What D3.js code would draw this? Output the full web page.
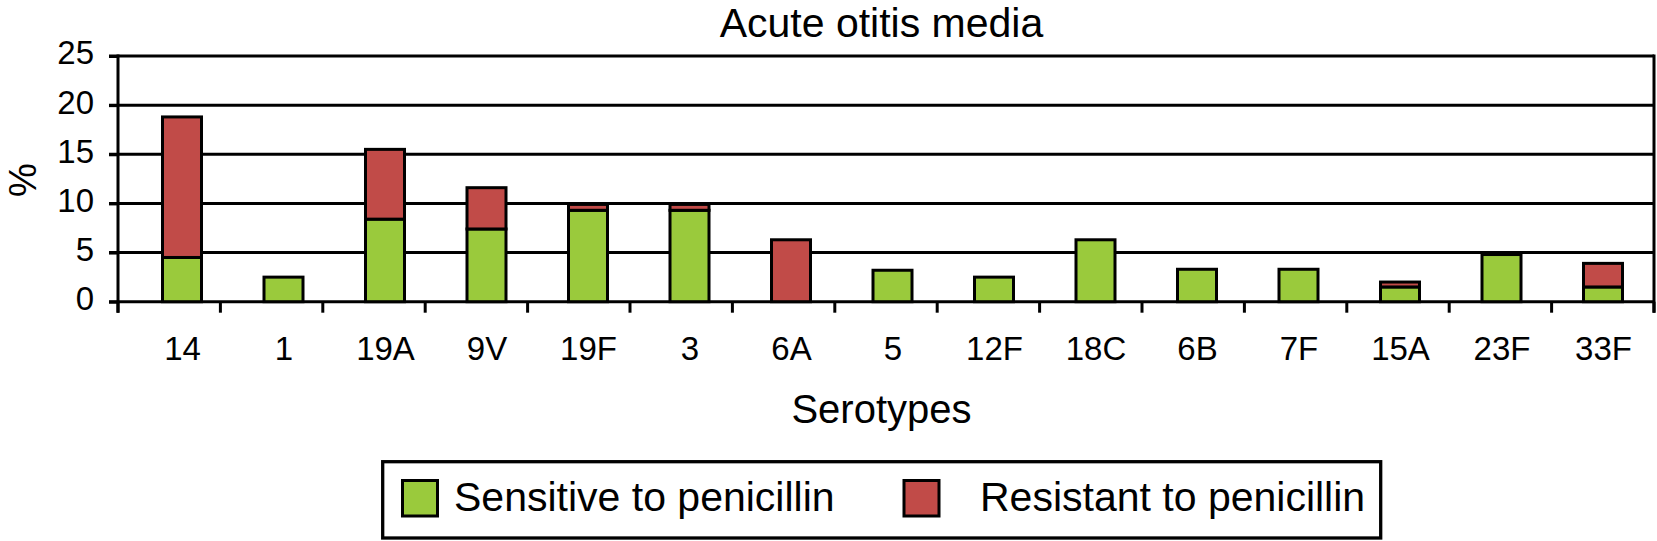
<!DOCTYPE html>
<html>
<head>
<meta charset="utf-8">
<script src="https://cdn.jsdelivr.net/npm/d3@7"></script>
<style>
  body { margin: 0; background: #fff; }
  svg { display: block; font-family: "Liberation Sans", Arial, Helvetica, sans-serif; }
</style>
</head>
<body>
<svg id="chart" width="1657" height="541"></svg>
<script>
// values, % of isolates
const serotypes = ["14", "1", "19A", "9V", "19F", "3", "6A", "5", "12F", "18C", "6B", "7F", "15A", "23F", "33F"]
const sensitive = [4.5, 2.5, 8.4, 7.4, 9.3, 9.3, 0, 3.2, 2.5, 6.3, 3.3, 3.3, 1.5, 4.8, 1.5]
const resistant = [14.3, 0, 7.1, 4.2, 0.6, 0.6, 6.3, 0, 0, 0, 0, 0, 0.5, 0, 2.4]
const yTicks = [0, 5, 10, 15, 20, 25]
const seriesNames = ["Sensitive to penicillin", "Resistant to penicillin"]
const seriesColors = ["#9aca3c", "#c14b48"]

const svg = d3.select("#chart")
const plotLeft = 118, plotRight = 1654, plotTop = 56, plotBottom = 301.7

// frame ticks sit on band edges, bars and labels on their own point scale
const xb = d3.scaleBand().domain(serotypes).range([plotLeft, plotRight])
const xp = d3.scalePoint().domain(serotypes).range([182, 1603])
const y = d3.scaleLinear().domain([0, 25]).range([plotBottom, plotTop])

const rows = serotypes.map((s, i) => ({serotype: s, sensitive: sensitive[i], resistant: resistant[i]}))
const stacked = d3.stack().keys(["sensitive", "resistant"])(rows)

// gridlines
svg.append("g")
  .selectAll("line")
  .data(yTicks)
  .enter().append("line")
  .attr("x1", plotLeft - 9)
  .attr("x2", plotRight)
  .attr("y1", d => y(d))
  .attr("y2", d => y(d))
  .attr("stroke", "#000")
  .attr("stroke-width", 3)

// bars
const barW = 39
svg.append("g")
  .selectAll("g")
  .data(stacked)
  .enter().append("g")
  .attr("fill", (d, i) => seriesColors[i])
  .selectAll("rect")
  .data(d => d.filter(p => p[1] - p[0] > 0))
  .enter().append("rect")
  .attr("x", d => xp(d.data.serotype) - barW / 2)
  .attr("width", barW)
  .attr("y", d => y(d[1]))
  .attr("height", d => y(d[0]) - y(d[1]))
  .attr("stroke", "#000")
  .attr("stroke-width", 3)

// y axis
const yAxis = svg.append("g")
  .attr("transform", `translate(${plotLeft},0)`)
  .call(d3.axisLeft(y).tickValues(yTicks).tickSize(9).tickPadding(15))
yAxis.select(".domain").remove()
yAxis.selectAll("line").attr("stroke-width", 3)
yAxis.selectAll("text")
  .attr("dy", "0.24em")
  .attr("font-size", 33)
  .attr("fill", "#000")

// vertical frame lines, left and right
svg.append("g")
  .selectAll("line")
  .data([plotLeft, plotRight])
  .enter().append("line")
  .attr("x1", d => d)
  .attr("x2", d => d)
  .attr("y1", plotTop - 1.5)
  .attr("y2", plotBottom + 11)
  .attr("stroke", "#000")
  .attr("stroke-width", 3)

// x ticks at band edges
const edges = serotypes.map(s => xb(s)).concat([xb.range()[1]])
svg.append("g")
  .selectAll("line")
  .data(edges)
  .enter().append("line")
  .attr("x1", d => d)
  .attr("x2", d => d)
  .attr("y1", plotBottom)
  .attr("y2", plotBottom + 11)
  .attr("stroke", "#000")
  .attr("stroke-width", 3)

// x labels
const xAxis = svg.append("g")
  .attr("transform", `translate(0,${plotBottom})`)
  .call(d3.axisBottom(xp).tickSize(0).tickPadding(35))
xAxis.select(".domain").remove()
xAxis.selectAll("text")
  .attr("font-size", 33)
  .attr("fill", "#000")

// titles
svg.append("text")
  .attr("x", 881.5)
  .attr("y", 36.7)
  .attr("text-anchor", "middle")
  .attr("font-size", 41)
  .text("Acute otitis media")

svg.append("text")
  .attr("x", 881.5)
  .attr("y", 423)
  .attr("text-anchor", "middle")
  .attr("font-size", 40)
  .text("Serotypes")

svg.append("text")
  .attr("transform", "translate(36,180) rotate(-90)")
  .attr("text-anchor", "middle")
  .attr("font-size", 38)
  .text("%")

// legend
svg.append("rect")
  .attr("x", 382.7)
  .attr("y", 461.7)
  .attr("width", 998)
  .attr("height", 76.3)
  .attr("fill", "none")
  .attr("stroke", "#000")
  .attr("stroke-width", 3.3)

const legendX = [402.5, 904]
const legendItems = svg.append("g")
  .selectAll("g")
  .data(seriesNames)
  .enter().append("g")
  .attr("transform", (d, i) => `translate(${legendX[i]},480.5)`)

legendItems.append("rect")
  .attr("width", 35)
  .attr("height", 35.5)
  .attr("fill", (d, i) => seriesColors[i])
  .attr("stroke", "#000")
  .attr("stroke-width", 3)

legendItems.append("text")
  .attr("x", (d, i) => i == 0 ? 51.5 : 76)
  .attr("y", 30)
  .attr("font-size", 41)
  .text(d => d)
</script>
</body>
</html>
